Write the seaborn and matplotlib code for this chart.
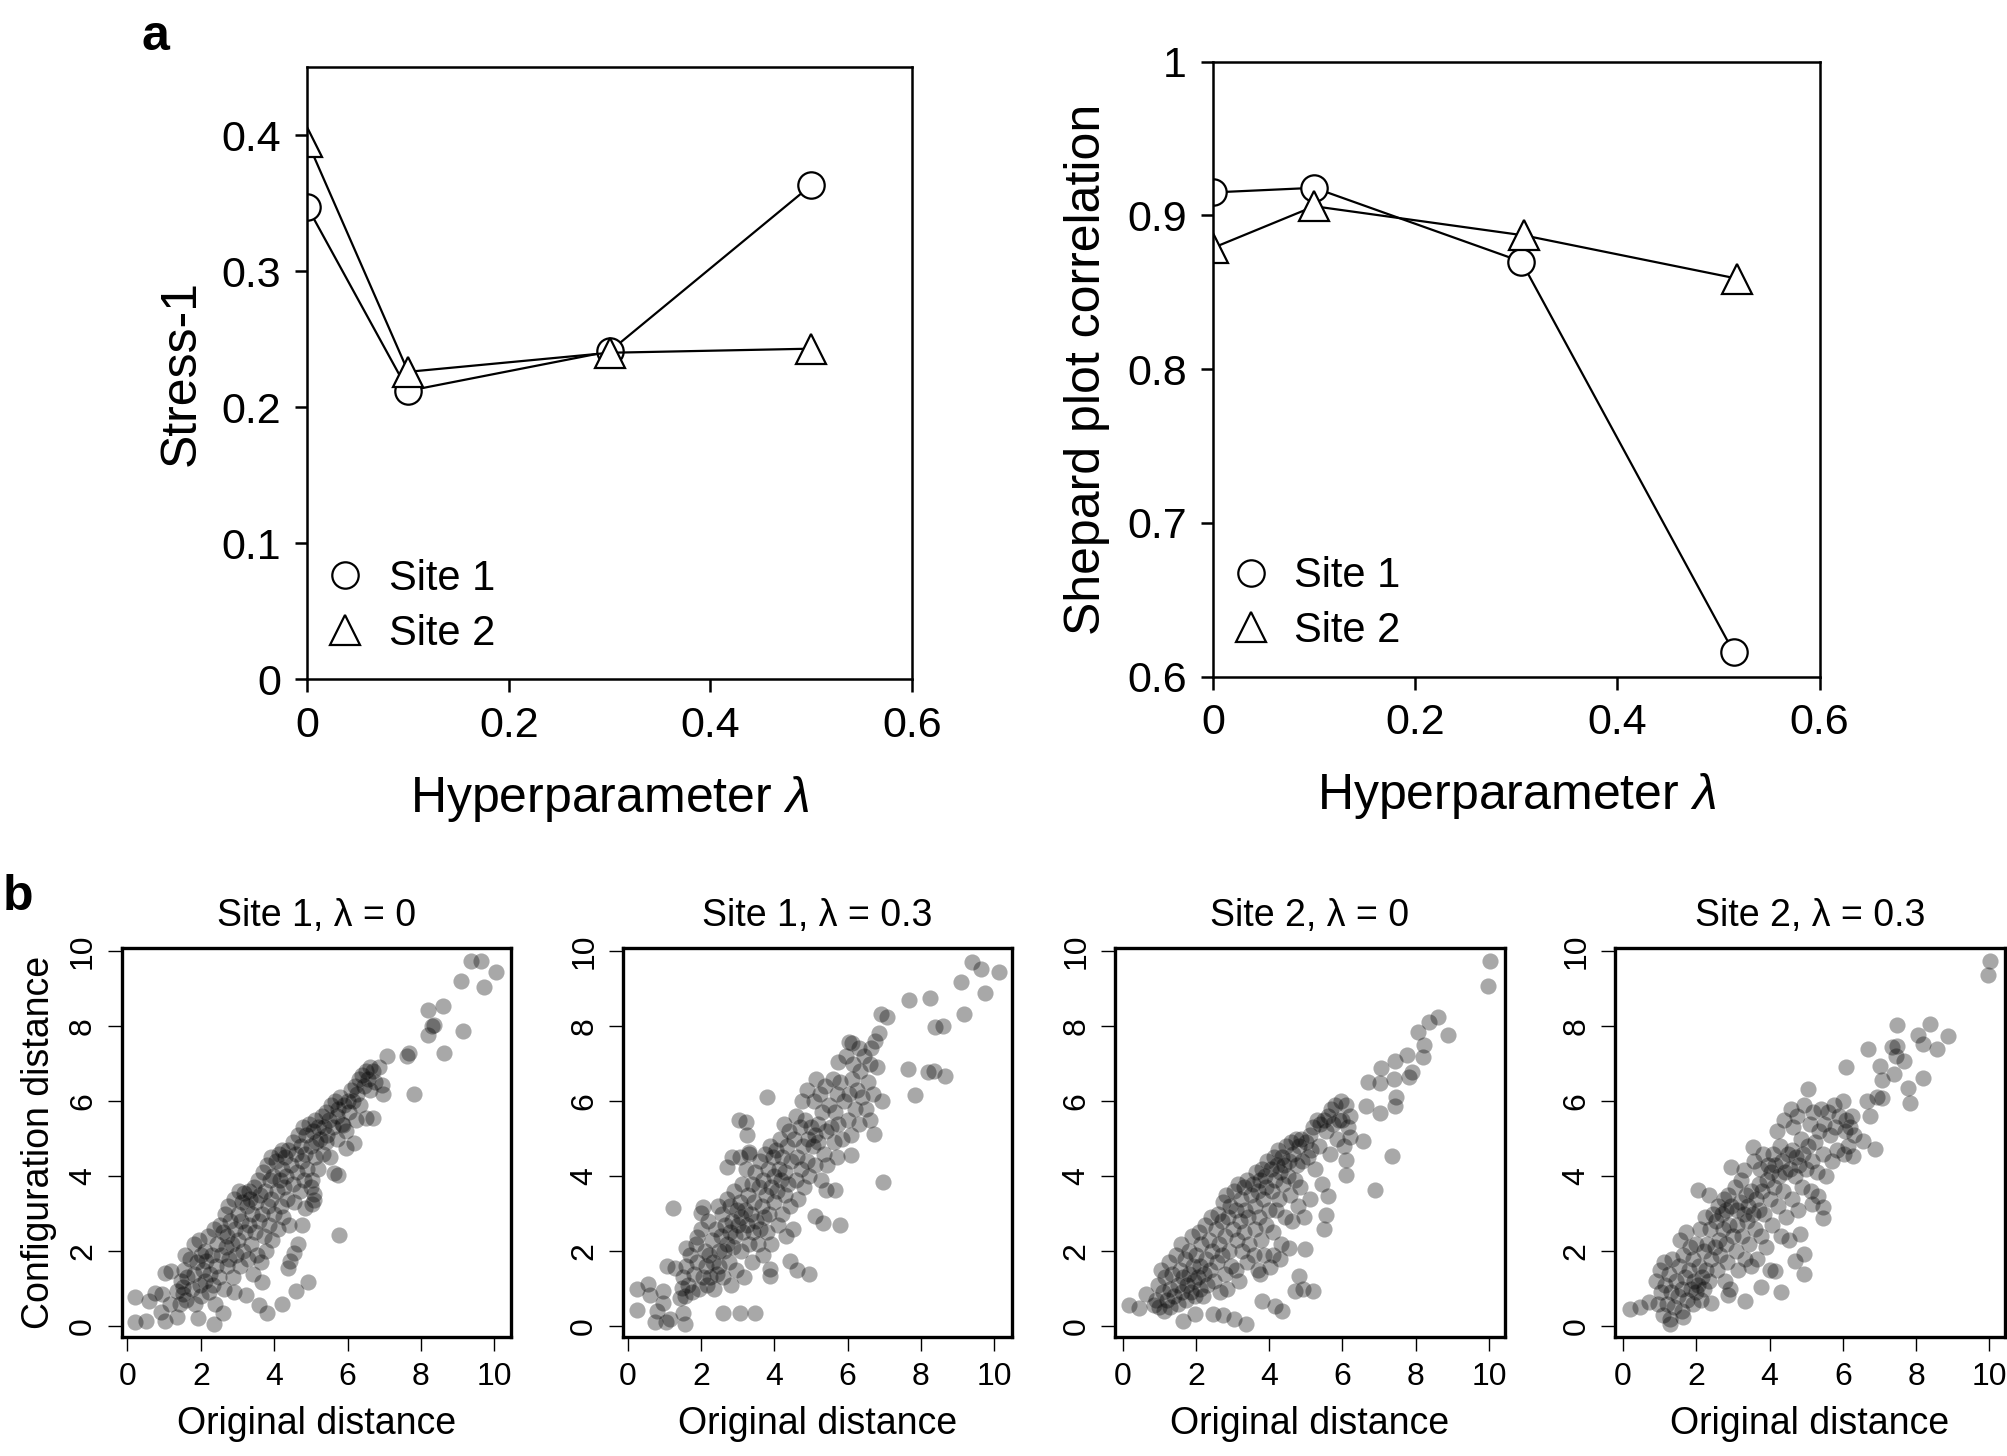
import matplotlib
matplotlib.use('Agg')
import matplotlib.pyplot as plt
from matplotlib.lines import Line2D
from matplotlib.ticker import FuncFormatter
import seaborn as sns

# ---- panel a: stress and Shepard correlation vs lambda ----
lam_stress = [0.0, 0.1, 0.3, 0.5]
stress_site1 = [0.347, 0.212, 0.241, 0.363]
stress_site2 = [0.395, 0.226, 0.240, 0.243]

lam_corr_site1 = [0.0, 0.1, 0.305, 0.515]
lam_corr_site2 = [0.0, 0.1, 0.308, 0.518]
corr_site1 = [0.915, 0.918, 0.870, 0.616]
corr_site2 = [0.879, 0.906, 0.887, 0.859]

# ---- panel b: Shepard plots (original distance, configuration distance) ----
site1_lam0 = [
    (9.37, 9.74), (9.63, 9.74), (10.05, 9.45), (9.09, 9.2), (9.73, 9.05), (8.2, 8.43),
    (8.59, 8.53), (8.3, 8.0), (8.35, 8.02), (8.18, 7.75), (9.16, 7.87), (8.63, 7.29),
    (7.07, 7.21), (7.63, 7.19), (7.68, 7.29), (7.82, 6.2), (6.95, 6.42), (6.97, 6.19),
    (5.76, 2.43), (4.93, 1.19), (4.59, 0.94), (4.21, 0.58), (3.8, 0.34), (3.58, 0.56),
    (4.65, 2.19), (4.53, 1.94), (4.43, 1.73), (4.37, 1.56), (4.75, 2.7), (4.85, 3.16),
    (5.09, 3.36), (2.6, 0.34), (2.37, 0.07), (1.92, 0.23), (0.21, 0.78), (0.21, 0.1),
    (0.51, 0.13), (0.59, 0.66), (0.75, 0.89), (0.95, 0.87), (0.9, 0.38), (1.01, 0.15),
    (1.15, 0.58), (1.34, 0.25), (1.01, 1.43), (1.19, 1.46), (2.9, 0.92), (3.24, 0.82),
    (3.68, 1.17), (5.63, 4.08), (5.73, 4.03), (5.97, 4.74), (6.17, 4.89), (6.7, 5.56),
    (6.5, 5.56), (5.87, 5.35), (5.09, 3.52), (4.99, 3.72), (5.04, 3.26),
    (1.35, 0.95), (1.42, 0.6), (1.45, 1.2), (1.5, 0.85), (1.52, 1.05), (1.55, 1.5),
    (1.6, 0.7), (1.58, 1.9), (1.62, 1.3), (1.7, 1.8), (1.75, 1.0), (1.8, 2.2),
    (1.82, 1.4), (1.85, 0.6), (1.9, 1.7), (1.95, 2.3), (1.98, 1.1), (2.0, 0.8),
    (2.0, 1.9), (2.05, 1.5), (2.1, 2.0), (2.12, 1.2), (2.15, 1.75), (2.2, 2.4),
    (2.22, 0.9), (2.25, 1.4), (2.3, 1.9), (2.32, 1.1), (2.35, 2.6), (2.38, 0.6),
    (2.4, 1.6), (2.45, 2.2), (2.5, 1.3), (2.52, 2.7), (2.55, 1.9), (2.6, 2.5),
    (2.62, 1.0), (2.65, 3.0), (2.68, 2.1), (2.7, 1.6), (2.72, 2.4), (2.75, 3.2),
    (2.78, 1.8), (2.8, 2.8), (2.85, 2.2), (2.88, 1.3), (2.9, 3.4), (2.92, 2.6),
    (2.95, 1.9), (3.0, 3.0), (3.02, 2.3), (3.05, 3.6), (3.08, 1.6), (3.1, 2.8),
    (3.12, 3.3), (3.15, 2.0), (3.18, 3.55), (3.2, 2.5), (3.25, 3.2), (3.28, 1.8),
    (3.3, 3.6), (3.32, 2.7), (3.35, 3.4), (3.38, 2.2), (3.4, 3.0), (3.42, 1.4),
    (3.45, 3.7), (3.48, 2.5), (3.5, 3.3), (3.52, 1.9), (3.55, 3.9), (3.58, 2.8),
    (3.6, 3.5), (3.65, 1.7), (3.68, 3.0), (3.7, 4.1), (3.72, 2.4), (3.75, 3.6),
    (3.78, 2.0), (3.8, 4.3), (3.82, 3.2), (3.85, 2.7), (3.88, 3.9), (3.9, 4.5),
    (3.92, 3.4), (3.95, 2.3), (3.98, 4.0), (4.0, 3.0), (4.05, 4.4), (4.08, 3.6),
    (4.1, 2.6), (4.12, 4.6), (4.15, 3.9), (4.18, 3.2), (4.2, 4.7), (4.22, 4.2),
    (4.25, 2.9), (4.28, 3.7), (4.3, 4.5), (4.32, 4.0), (4.35, 3.4), (4.38, 4.7),
    (4.4, 2.7), (4.45, 4.3), (4.5, 3.8), (4.52, 4.9), (4.55, 3.3), (4.6, 4.6),
    (4.62, 4.1), (4.65, 5.1), (4.7, 3.6), (4.72, 4.8), (4.75, 4.4), (4.78, 5.3),
    (4.8, 3.9), (4.85, 4.6), (4.88, 5.1), (4.9, 4.2), (4.95, 5.4), (5.0, 4.8),
    (5.02, 3.9), (5.05, 5.2), (5.1, 4.5), (5.12, 5.5), (5.15, 4.9), (5.2, 5.3),
    (5.2, 4.2), (5.25, 5.0), (5.3, 5.6), (5.32, 4.6), (5.35, 5.3), (5.4, 4.9),
    (5.42, 5.7), (5.45, 5.1), (5.5, 5.5), (5.52, 4.5), (5.55, 5.9), (5.6, 5.3),
    (5.65, 6.0), (5.7, 5.6), (5.72, 5.0), (5.75, 5.8), (5.8, 6.1), (5.85, 5.4),
    (5.9, 5.9), (5.95, 5.2), (6.0, 6.0), (6.05, 5.7), (6.1, 6.3), (6.15, 6.0),
    (6.2, 6.4), (6.22, 5.5), (6.25, 6.2), (6.3, 6.6), (6.35, 5.9), (6.4, 6.7),
    (6.45, 6.4), (6.5, 6.8), (6.55, 6.6), (6.6, 6.9), (6.62, 6.3), (6.7, 6.8),
    (6.75, 6.5), (6.85, 6.9),
]

site1_lam03 = [
    (9.4, 9.71), (9.65, 9.51), (10.13, 9.45), (9.1, 9.17), (9.75, 8.88), (9.17, 8.31),
    (8.38, 7.98), (8.62, 8.0), (7.69, 8.7), (8.24, 8.74), (7.64, 6.86), (8.19, 6.78),
    (8.35, 6.8), (8.67, 6.66), (7.85, 6.15), (6.91, 8.31), (7.09, 8.23), (6.94, 5.99),
    (6.71, 5.13), (6.98, 3.85), (5.75, 7.03), (6.03, 7.57), (6.13, 7.54), (3.79, 6.1),
    (3.04, 5.5), (3.22, 5.45), (3.26, 5.09), (3.31, 4.64), (2.84, 4.51), (3.06, 4.51),
    (2.72, 4.23), (1.24, 3.14), (2.04, 3.18), (2.0, 3.03), (5.1, 2.95), (5.34, 2.75),
    (5.78, 2.7), (5.41, 3.64), (5.67, 3.64), (6.09, 4.57), (4.43, 1.75), (4.61, 1.51),
    (4.96, 1.38), (3.87, 1.53), (3.88, 1.33), (2.59, 0.36), (3.06, 0.36), (3.47, 0.36),
    (0.26, 0.99), (0.26, 0.43), (0.56, 1.12), (0.6, 0.84), (0.74, 0.12), (0.95, 0.94),
    (0.95, 0.63), (0.8, 0.41), (1.04, 0.12), (1.15, 0.18), (1.06, 1.6), (1.29, 1.56),
    (1.42, 0.76), (1.51, 0.36), (1.56, 0.05), (1.47, 1.02), (1.6, 2.09), (1.88, 2.38),
    (1.5, 1.3), (1.55, 0.8), (1.6, 1.6), (1.65, 1.1), (1.7, 1.9), (1.75, 0.9),
    (1.8, 1.4), (1.85, 2.2), (1.9, 1.7), (1.95, 1.0), (2.0, 2.6), (2.05, 1.3),
    (2.1, 2.0), (2.12, 1.6), (2.15, 1.1), (2.2, 2.8), (2.22, 1.9), (2.25, 1.3),
    (2.3, 2.3), (2.32, 1.7), (2.35, 1.0), (2.4, 2.6), (2.42, 1.4), (2.45, 3.2),
    (2.48, 2.0), (2.5, 1.6), (2.55, 2.4), (2.58, 3.0), (2.6, 1.3), (2.62, 2.0),
    (2.65, 2.7), (2.7, 3.4), (2.72, 2.2), (2.75, 1.7), (2.78, 2.5), (2.8, 3.2),
    (2.82, 1.1), (2.85, 2.8), (2.88, 2.1), (2.9, 3.6), (2.92, 2.4), (2.95, 1.5),
    (2.98, 3.1), (3.0, 2.7), (3.05, 3.3), (3.08, 2.0), (3.1, 2.9), (3.12, 3.8),
    (3.15, 2.5), (3.18, 1.3), (3.2, 3.1), (3.22, 4.2), (3.25, 2.7), (3.28, 3.5),
    (3.3, 2.2), (3.32, 4.6), (3.35, 3.0), (3.38, 1.7), (3.4, 3.8), (3.42, 2.5),
    (3.45, 3.3), (3.48, 4.1), (3.5, 2.8), (3.55, 2.2), (3.58, 3.7), (3.6, 2.6),
    (3.62, 4.4), (3.65, 3.2), (3.68, 1.9), (3.7, 3.9), (3.72, 2.9), (3.75, 4.6),
    (3.78, 3.5), (3.8, 2.5), (3.82, 4.2), (3.85, 3.0), (3.88, 4.8), (3.9, 3.7),
    (3.92, 2.2), (3.95, 4.5), (3.98, 3.3), (4.0, 4.0), (4.05, 4.7), (4.08, 3.6),
    (4.1, 2.7), (4.12, 4.2), (4.15, 5.0), (4.18, 3.9), (4.2, 3.0), (4.22, 4.5),
    (4.25, 5.4), (4.28, 3.5), (4.3, 4.1), (4.32, 2.4), (4.35, 4.8), (4.38, 3.8),
    (4.4, 5.2), (4.42, 3.2), (4.45, 4.4), (4.5, 2.6), (4.55, 5.0), (4.58, 3.9),
    (4.6, 5.6), (4.62, 4.5), (4.65, 3.4), (4.7, 5.3), (4.72, 4.2), (4.75, 6.0),
    (4.78, 4.8), (4.8, 3.7), (4.85, 5.5), (4.88, 4.4), (4.9, 6.3), (4.92, 5.0),
    (4.95, 4.0), (5.0, 5.3), (5.05, 4.8), (5.08, 6.0), (5.1, 5.1), (5.12, 4.3),
    (5.15, 6.6), (5.18, 5.4), (5.2, 4.9), (5.25, 6.2), (5.28, 3.9), (5.3, 5.7),
    (5.35, 4.6), (5.38, 6.4), (5.4, 5.2), (5.45, 4.3), (5.5, 5.9), (5.55, 5.3),
    (5.6, 6.6), (5.62, 4.9), (5.65, 5.7), (5.7, 6.2), (5.72, 4.5), (5.75, 5.4),
    (5.8, 6.5), (5.85, 5.0), (5.9, 6.0), (5.95, 7.2), (6.0, 5.5), (6.05, 6.2),
    (6.1, 5.1), (6.12, 6.6), (6.15, 7.0), (6.2, 5.8), (6.25, 6.3), (6.3, 7.4),
    (6.32, 5.4), (6.35, 6.8), (6.4, 6.1), (6.45, 7.2), (6.5, 5.8), (6.55, 6.5),
    (6.6, 7.0), (6.62, 5.5), (6.65, 7.4), (6.7, 6.2), (6.75, 7.6), (6.8, 6.9),
    (6.85, 7.8),
]

site2_lam0 = [
    (10.02, 9.73), (9.97, 9.07), (8.88, 7.75), (8.61, 8.25), (8.36, 8.1), (8.06, 7.85),
    (8.22, 7.49), (8.2, 7.17), (7.75, 7.24), (7.82, 6.65), (7.91, 6.78), (7.43, 7.08),
    (7.47, 6.12), (7.43, 5.88), (7.41, 6.6), (7.02, 6.47), (7.02, 5.69), (7.06, 6.88),
    (6.7, 6.52), (6.65, 5.86), (7.35, 4.54), (6.89, 3.62), (6.56, 4.94), (6.2, 5.05),
    (6.09, 4.03), (6.11, 4.43), (5.56, 2.96), (5.49, 2.6), (5.61, 3.47), (4.97, 2.07),
    (4.55, 2.09), (4.8, 1.33), (4.71, 0.94), (4.93, 0.99), (5.2, 0.94), (4.15, 0.54),
    (4.34, 0.41), (3.79, 0.66), (3.36, 0.07), (3.04, 0.2), (2.73, 0.29), (2.47, 0.33),
    (1.97, 0.33), (1.65, 0.15), (0.18, 0.56), (0.45, 0.48), (0.64, 0.87), (0.84, 0.56),
    (4.11, 1.89), (4.29, 1.78), (4.02, 1.58), (3.75, 1.38),
    (0.9, 0.7), (0.95, 1.1), (1.0, 0.5), (1.05, 1.5), (1.1, 0.9), (1.12, 0.4),
    (1.15, 1.3), (1.2, 0.7), (1.25, 1.7), (1.28, 1.0), (1.3, 0.5), (1.35, 1.4),
    (1.4, 0.8), (1.45, 1.9), (1.5, 1.1), (1.52, 0.6), (1.55, 1.5), (1.6, 2.2),
    (1.62, 0.9), (1.65, 1.3), (1.7, 1.8), (1.72, 0.7), (1.75, 1.1), (1.8, 2.0),
    (1.82, 1.4), (1.85, 0.9), (1.9, 2.4), (1.92, 1.6), (1.95, 1.2), (1.98, 0.8),
    (2.0, 1.9), (2.05, 1.3), (2.08, 2.5), (2.1, 1.0), (2.12, 1.6), (2.15, 2.2),
    (2.2, 0.8), (2.22, 1.4), (2.25, 2.7), (2.28, 1.8), (2.3, 1.1), (2.35, 2.3),
    (2.38, 1.5), (2.4, 2.9), (2.45, 2.0), (2.5, 1.2), (2.55, 2.6), (2.58, 1.7),
    (2.6, 3.0), (2.62, 2.2), (2.65, 0.9), (2.7, 1.9), (2.72, 2.8), (2.75, 3.3),
    (2.78, 1.4), (2.8, 2.4), (2.82, 3.5), (2.85, 1.0), (2.88, 2.9), (2.9, 2.0),
    (2.92, 3.2), (2.95, 1.6), (3.0, 2.6), (3.05, 3.6), (3.08, 1.5), (3.1, 3.1),
    (3.12, 2.3), (3.15, 3.8), (3.18, 1.2), (3.2, 2.8), (3.22, 3.4), (3.25, 2.0),
    (3.3, 3.7), (3.32, 2.5), (3.35, 3.1), (3.38, 1.7), (3.4, 3.9), (3.42, 2.9),
    (3.45, 2.2), (3.5, 3.5), (3.55, 3.8), (3.58, 1.9), (3.6, 3.2), (3.62, 2.6),
    (3.65, 4.1), (3.68, 3.6), (3.7, 1.5), (3.72, 2.9), (3.75, 3.9), (3.78, 2.3),
    (3.8, 4.2), (3.82, 3.4), (3.85, 1.9), (3.88, 4.0), (3.9, 3.7), (3.92, 2.7),
    (3.95, 4.4), (4.0, 3.1), (4.05, 4.2), (4.08, 3.6), (4.1, 2.5), (4.12, 4.5),
    (4.15, 3.9), (4.18, 3.1), (4.2, 4.3), (4.25, 4.7), (4.28, 3.4), (4.3, 4.1),
    (4.32, 2.2), (4.35, 4.5), (4.38, 3.8), (4.4, 4.3), (4.42, 2.9), (4.45, 4.8),
    (4.5, 4.0), (4.55, 4.4), (4.58, 3.5), (4.6, 4.9), (4.62, 2.8), (4.65, 4.6),
    (4.7, 3.9), (4.72, 5.0), (4.75, 4.3), (4.78, 3.2), (4.8, 4.8), (4.85, 3.7),
    (4.88, 5.0), (4.9, 4.4), (4.95, 2.9), (5.0, 4.9), (5.05, 4.5), (5.1, 5.1),
    (5.12, 3.4), (5.15, 4.7), (5.2, 5.3), (5.25, 4.2), (5.3, 5.5), (5.35, 4.8),
    (5.4, 5.4), (5.45, 3.8), (5.5, 5.5), (5.55, 5.2), (5.6, 5.6), (5.65, 4.6),
    (5.7, 5.8), (5.75, 5.4), (5.8, 5.9), (5.85, 5.0), (5.9, 5.5), (5.95, 6.0),
    (6.0, 5.5), (6.05, 4.8), (6.1, 5.9), (6.15, 5.3), (6.2, 5.6),
]

site2_lam03 = [
    (10.02, 9.73), (9.97, 9.35), (8.88, 7.74), (8.38, 8.04), (8.58, 7.39), (8.04, 7.77),
    (8.2, 7.52), (8.2, 6.61), (7.47, 8.03), (7.34, 7.43), (7.49, 7.47), (7.45, 7.19),
    (7.67, 7.06), (7.4, 6.72), (7.79, 6.34), (7.84, 5.96), (6.7, 7.39), (7.02, 6.93),
    (7.06, 6.57), (6.09, 6.9), (6.93, 6.12), (7.06, 6.09), (6.65, 6.0), (6.75, 5.61),
    (6.88, 4.72), (6.56, 4.94), (6.29, 4.54), (6.04, 4.59), (5.06, 6.32), (3.56, 4.77),
    (2.04, 3.62), (2.36, 3.49), (2.95, 4.25), (3.31, 4.15), (5.47, 2.88), (5.47, 3.19),
    (5.15, 3.26), (5.31, 3.47), (4.93, 1.38), (4.95, 1.92), (4.7, 1.75), (4.82, 2.45),
    (4.52, 2.29), (4.31, 0.9), (4.15, 1.48), (4.02, 1.5), (3.76, 1.05), (3.34, 0.66),
    (2.88, 0.82), (2.41, 0.61), (0.18, 0.46), (0.47, 0.51), (0.7, 0.64), (1.29, 0.05),
    (1.65, 0.25),
    (0.9, 1.2), (0.95, 0.6), (1.0, 1.5), (1.05, 0.9), (1.1, 0.3), (1.12, 1.7),
    (1.15, 1.1), (1.2, 0.6), (1.25, 1.4), (1.28, 0.2), (1.3, 0.9), (1.35, 1.8),
    (1.4, 0.5), (1.45, 1.2), (1.5, 0.8), (1.52, 1.6), (1.55, 2.3), (1.6, 1.0),
    (1.62, 0.4), (1.65, 1.9), (1.7, 1.3), (1.72, 2.5), (1.75, 0.7), (1.8, 1.5),
    (1.82, 2.1), (1.85, 1.0), (1.9, 0.6), (1.92, 1.8), (1.95, 1.2), (2.0, 2.2),
    (2.0, 0.9), (2.05, 1.1), (2.08, 1.6), (2.1, 2.6), (2.12, 0.7), (2.15, 1.3),
    (2.2, 2.0), (2.22, 1.0), (2.25, 2.9), (2.28, 1.5), (2.3, 2.2), (2.35, 1.2),
    (2.38, 2.6), (2.4, 1.8), (2.45, 3.0), (2.5, 2.1), (2.55, 2.8), (2.58, 1.5),
    (2.6, 3.2), (2.62, 2.3), (2.65, 1.9), (2.7, 3.0), (2.72, 2.6), (2.75, 3.4),
    (2.78, 1.2), (2.8, 2.2), (2.82, 3.1), (2.85, 1.7), (2.88, 3.5), (2.9, 2.7),
    (2.92, 1.0), (2.95, 3.2), (3.0, 2.4), (3.05, 3.7), (3.08, 2.0), (3.1, 3.1),
    (3.12, 2.7), (3.15, 1.5), (3.2, 3.3), (3.22, 3.9), (3.25, 2.4), (3.3, 3.0),
    (3.32, 1.8), (3.35, 3.5), (3.38, 2.8), (3.4, 3.2), (3.45, 2.2), (3.5, 3.6),
    (3.5, 1.6), (3.55, 3.0), (3.58, 4.4), (3.6, 2.6), (3.62, 3.4), (3.65, 1.8),
    (3.7, 3.8), (3.72, 3.1), (3.75, 4.2), (3.78, 2.4), (3.8, 3.6), (3.82, 4.6),
    (3.85, 3.0), (3.9, 2.1), (3.92, 3.9), (3.95, 4.3), (4.0, 3.4), (4.05, 4.1),
    (4.08, 2.7), (4.1, 4.6), (4.12, 3.7), (4.15, 4.3), (4.2, 5.2), (4.22, 3.2),
    (4.25, 4.0), (4.28, 4.8), (4.3, 2.4), (4.35, 4.4), (4.38, 3.6), (4.4, 5.5),
    (4.42, 4.1), (4.45, 2.9), (4.5, 4.6), (4.55, 4.2), (4.58, 5.8), (4.6, 3.4),
    (4.62, 4.7), (4.65, 5.3), (4.7, 4.0), (4.72, 4.5), (4.75, 5.6), (4.78, 3.1),
    (4.8, 4.3), (4.85, 5.0), (4.88, 3.7), (4.9, 4.6), (4.95, 5.9), (5.0, 4.2),
    (5.05, 4.8), (5.1, 5.4), (5.12, 3.6), (5.15, 4.4), (5.2, 5.7), (5.25, 4.9),
    (5.3, 4.1), (5.35, 5.2), (5.4, 5.8), (5.45, 4.6), (5.5, 5.4), (5.55, 4.0),
    (5.6, 5.7), (5.65, 5.1), (5.7, 4.4), (5.75, 5.9), (5.8, 5.3), (5.85, 4.7),
    (5.9, 5.6), (6.0, 6.0), (6.05, 5.2), (6.1, 5.5), (6.15, 4.8), (6.2, 5.3),
    (6.25, 5.6), (6.3, 5.1),
]

shepard_sets = [site1_lam0, site1_lam03, site2_lam0, site2_lam03]
shepard_titles = ['Site 1, λ = 0', 'Site 1, λ = 0.3', 'Site 2, λ = 0', 'Site 2, λ = 0.3']
shepard_xlims = [(-0.16, 10.46), (-0.14, 10.5), (-0.21, 10.43), (-0.21, 10.42)]
dist_ticks = [0, 2, 4, 6, 8, 10]

sns.set_style('white')
plt.rcParams['font.family'] = ['Liberation Sans', 'DejaVu Sans']
plt.rcParams['mathtext.fontset'] = 'custom'
plt.rcParams['mathtext.rm'] = 'Liberation Sans'
plt.rcParams['mathtext.it'] = 'Liberation Sans:italic'
for key in ['text.color', 'axes.labelcolor', 'xtick.color', 'ytick.color']:
    plt.rcParams[key] = 'black'

fig = plt.figure(figsize=(20.07, 14.56), dpi=100)
gfmt = FuncFormatter(lambda v, pos: '%g' % v)


def draw_top(ax, x1, y1, x2, y2, ylim, yticks, ylabel):
    kw = dict(color='black', linewidth=1.6, markerfacecolor='white',
              markeredgecolor='black', markeredgewidth=1.6)
    sns.lineplot(x=x1, y=y1, ax=ax, marker='o', markersize=19, **kw)
    sns.lineplot(x=x2, y=y2, ax=ax, marker='^', markersize=21, **kw)
    ax.set_xlim(0, 0.6)
    ax.set_ylim(*ylim)
    ax.set_xticks([0, 0.2, 0.4, 0.6])
    ax.set_yticks(yticks)
    ax.xaxis.set_major_formatter(gfmt)
    ax.yaxis.set_major_formatter(gfmt)
    ax.tick_params(direction='out', length=9, width=1.8, labelsize=31, pad=10,
                   left=True, bottom=True)
    for sp in ax.spines.values():
        sp.set_linewidth(1.8)
        sp.set_color('black')
    ax.set_xlabel('Hyperparameter $\\mathit{λ}$', fontsize=36, labelpad=20)
    ax.set_ylabel(ylabel, fontsize=36, labelpad=12)
    handles = [
        Line2D([], [], ls='none', marker='o', ms=19, mfc='white', mec='black', mew=1.6),
        Line2D([], [], ls='none', marker='^', ms=21, mfc='white', mec='black', mew=1.6),
    ]
    ax.legend(handles, ['Site 1', 'Site 2'], loc='lower left', bbox_to_anchor=(0.0, 0.015),
              frameon=False, fontsize=30, handlelength=1.0, handletextpad=0.55,
              labelspacing=0.35, borderaxespad=0)


ax1 = fig.add_axes([0.1532, 0.5334, 0.3011, 0.4206])
draw_top(ax1, lam_stress, stress_site1, lam_stress, stress_site2,
         (0, 0.45), [0, 0.1, 0.2, 0.3, 0.4], 'Stress-1')
ax2 = fig.add_axes([0.6045, 0.5352, 0.3021, 0.4224])
draw_top(ax2, lam_corr_site1, corr_site1, lam_corr_site2, corr_site2,
         (0.6, 1.0), [0.6, 0.7, 0.8, 0.9, 1.0], 'Shepard plot correlation')

lefts = [0.0606, 0.3103, 0.5556, 0.8048]
for i, pts in enumerate(shepard_sets):
    ax = fig.add_axes([lefts[i], 0.0814, 0.1941, 0.2673])
    xs = [p[0] for p in pts]
    ys = [p[1] for p in pts]
    sns.scatterplot(x=xs, y=ys, ax=ax, color='black', alpha=0.34, s=135, linewidth=0)
    ax.set_xlim(*shepard_xlims[i])
    ax.set_ylim(-0.3, 10.07)
    ax.set_xticks(dist_ticks)
    ax.set_yticks(dist_ticks)
    ax.tick_params(direction='out', length=10, width=1.0, labelsize=23, pad=8,
                   left=True, bottom=True)
    ax.tick_params(axis='y', labelrotation=90, pad=7)
    for lab in ax.get_yticklabels():
        lab.set_va('center')
    for sp in ax.spines.values():
        sp.set_linewidth(2.4)
        sp.set_color('black')
    ax.set_title(shepard_titles[i], fontsize=27, pad=16)
    ax.set_xlabel('Original distance', fontsize=27, labelpad=10)
    if i == 0:
        ax.set_ylabel('Configuration distance', fontsize=27, labelpad=8)

fig.text(0.0772, 0.9657, 'a', ha='center', va='baseline', fontsize=36, fontweight='bold')
fig.text(0.0015, 0.375, 'b', ha='left', va='baseline', fontsize=36, fontweight='bold')

fig.savefig('out.png', dpi=100)
